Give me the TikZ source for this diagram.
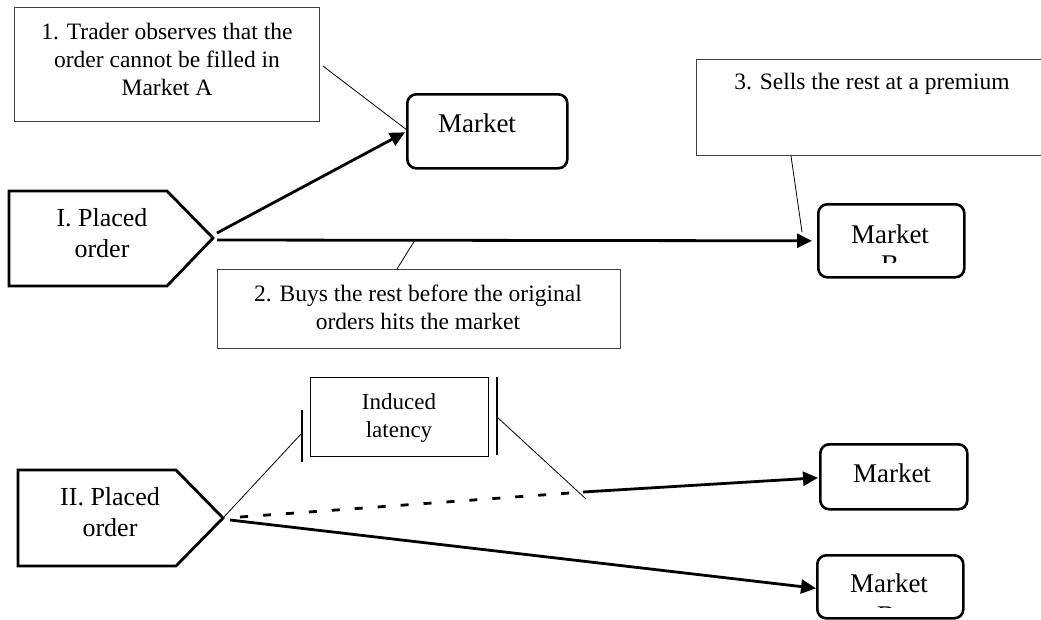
\documentclass[tikz,border=0pt]{standalone}
\usepackage{fontspec}
\setmainfont{Liberation Serif}
\usetikzlibrary{arrows.meta}
\begin{document}
\begin{tikzpicture}[x=1pt,y=-1pt,
  boxtxt/.style={font=\fontsize{23.5}{28}\selectfont, align=center, inner sep=0pt},
  plctxt/.style={font=\fontsize{26}{31}\selectfont, align=center, inner sep=0pt},
  mkttxt/.style={font=\fontsize{27}{30}\selectfont, inner sep=0pt},
  latxt/.style={font=\fontsize{23}{28}\selectfont, align=center, inner sep=0pt},
  callbox/.style={draw=black!75, line width=0.9pt, rectangle, inner sep=0pt, anchor=north west},
  mkt/.style={draw, line width=2.6pt, rounded corners=9pt, rectangle, inner sep=0pt, anchor=north west},
  pent/.style={draw, line width=2.8pt, line join=miter},
  thinln/.style={line width=0.8pt},
  conn/.style={line width=2.8pt, -{Triangle[length=15pt,width=14pt]}},
  dashln/.style={line width=2.8pt, dash pattern=on 8pt off 15pt},
  ]
\useasboundingbox (0,0) rectangle (1041,619);
\fill[white] (0,0) rectangle (1041,619);
\begin{scope}
\clip (0,0) rectangle (1041,619);

% ---------- upper scenario ----------
\node[callbox, minimum width=305pt, minimum height=114pt] (b1) at (14,7) {};
\node[boxtxt, anchor=north] (b1t) at (167,23) {1. Trader observes that the\\order cannot be filled in\\Market A};

\node[mkt, minimum width=160pt, minimum height=74pt] (mA) at (406,93) {};
\node[mkttxt, anchor=base] (mAt) at (477,132) {Market};

\draw[pent] (9,191) -- (167,191) -- (213,238) -- (167,286) -- (9,286) -- cycle;
\coordinate (p1tip) at (213,238);
\node[plctxt, anchor=north] (p1) at (102,208) {I. Placed\\order};

\node[callbox, minimum width=403pt, minimum height=79pt] (b2) at (217,269) {};
\node[boxtxt, anchor=north] (b2t) at (418,285) {2. Buys the rest before the original\\orders hits the market};

\node[callbox, minimum width=352pt, minimum height=96pt] (b3) at (696,59) {};
\node[boxtxt, anchor=north] (b3t) at (872,73) {3. Sells the rest at a premium};

\node[mkt, minimum width=146pt, minimum height=73pt] (mB) at (817,203) {};
\node[mkttxt, anchor=base] (mBt) at (890,243) {Market};
\begin{scope}
  \clip (820,200) rectangle (960,262);
  \node[mkttxt, anchor=base] (mBt2) at (890,273) {B};
\end{scope}

\draw[conn] ([xshift=4pt,yshift=5pt]p1tip) -- ([xshift=-1pt,yshift=-1pt]mA.west);
\draw[conn] ([xshift=4pt,yshift=-2pt]p1tip) -- ([xshift=-5pt]mB.west);

\coordinate (c2end) at (415,240);
\coordinate (c3end) at (802,232);
\draw[thinln] ([xshift=3pt,yshift=-59pt]b1.north east) -- ([yshift=2pt]mA.west);
\draw[thinln] ([xshift=180pt]b2.north west) -- (c2end);
\draw[thinln] ([xshift=95pt]b3.south west) -- (c3end);

% ---------- lower scenario ----------
\draw[pent] (18,470) -- (176,470) -- (223,518) -- (176,566) -- (18,566) -- cycle;
\coordinate (p2tip) at (223,518);
\node[plctxt, anchor=north] (p2) at (110,487) {II. Placed\\order};

\node[draw, line width=1.1pt, rectangle, inner sep=0pt, anchor=north west,
      minimum width=178pt, minimum height=79pt] (lat) at (310,377) {};
\node[latxt, anchor=north] (latt) at (399,393) {Induced\\latency};

\coordinate (lbtop) at (302,410);
\coordinate (lbbot) at (302,462);
\coordinate (lbmid) at (302,433);
\coordinate (rbtop) at (497,377);
\coordinate (rbbot) at (497,455);
\coordinate (rbmid) at (497,417);
\coordinate (rbend) at (586,499);
\draw[line width=1.1pt] (lbtop) -- (lbbot);
\draw[line width=1.1pt] (rbtop) -- (rbbot);
\draw[thinln] (p2tip) -- (lbmid);
\draw[thinln] (rbmid) -- (rbend);

\node[mkt, minimum width=147pt, minimum height=65pt] (mC) at (819,443) {};
\node[mkttxt, anchor=base] (mCt) at (892,482) {Market};

\node[mkt, minimum width=146pt, minimum height=63pt] (mD) at (816,554) {};
\node[mkttxt, anchor=base] (mDt) at (889,592) {Market};
\begin{scope}
  \clip (820,550) rectangle (960,607);
  \node[mkttxt, anchor=base] (mDt2) at (886,624) {B};
\end{scope}

\coordinate (dashend) at (583,492);
\draw[dashln] ([xshift=17pt,yshift=1pt]p2tip) -- (dashend);
\draw[conn] (dashend) -- ([xshift=-1pt,yshift=-1pt]mC.west);
\draw[conn] ([xshift=7pt,yshift=-2pt]p2tip) -- ([xshift=0pt,yshift=-1.5pt]mD.west);
\end{scope}
\end{tikzpicture}
\end{document}
